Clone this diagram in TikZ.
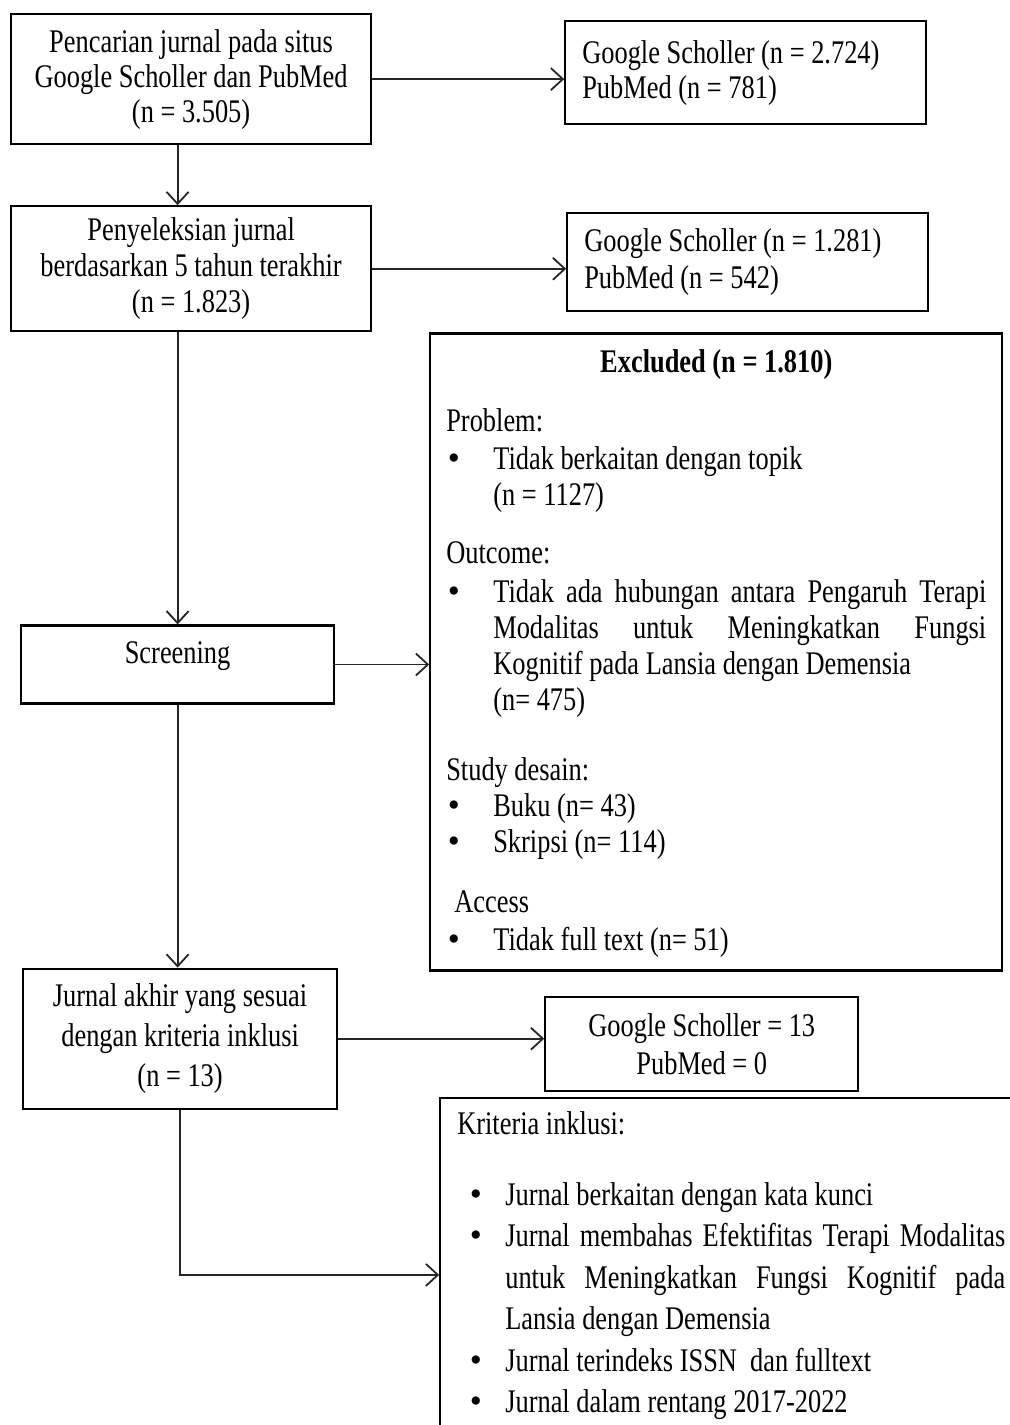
\documentclass[tikz,border=0pt]{standalone}
\usepackage{fontspec}
\usepackage{graphicx}
\setmainfont{Liberation Serif}[FakeStretch=0.8]
\usetikzlibrary{arrows.meta, positioning}
\setlength{\parskip}{0pt}
\newcommand{\bulletmark}{\scalebox{1.3}[1.05]{\textbullet}}
\newcommand{\exitem}[1]{\par\noindent\hangindent=23.5pt\hangafter=1%
  \makebox[23.5pt][l]{\hspace{0.8pt}\bulletmark}#1\par}
\newcommand{\initem}[1]{\par\noindent\hangindent=24pt\hangafter=1%
  \makebox[24pt][l]{\hspace{6.3pt}\bulletmark}#1\par}
\tikzset{%
  box/.style={draw, line width=1.1pt, inner sep=0pt, align=flush center,
    execute at begin node={\spaceskip=0pt\relax\xspaceskip=0pt\relax}},
  srcbox/.style={box, inner xsep=8.5pt, text width=163.5pt, align=flush left},
  listbox/.style={draw, line width=1.1pt, inner xsep=8pt, inner ysep=8pt},
  move/.style={draw=black!85, line width=0.9pt, -{Straight Barb[length=6pt, width=11pt]}},
}
\begin{document}
\begin{tikzpicture}[x=0.5pt, y=-0.5pt, font=\fontsize{16.5pt}{17.5pt}\selectfont]
  \useasboundingbox (0,0) rectangle (1010,1425);
  \clip (0,0) rectangle (1010,1425);

  % left column
  \node[box, anchor=north west, text width=180pt, minimum height=65pt] (search) at (10,13)
    {Pencarian jurnal pada situs\\Google Scholler dan PubMed\\(n = 3.505)};
  \node[box, text width=180pt, minimum height=62.5pt, font=\fontsize{16.5pt}{18pt}\selectfont]
    (filter) [below=30pt of search]
    {Penyeleksian jurnal\\berdasarkan 5 tahun terakhir\\(n = 1.823)};
  \node[box, text width=156.5pt, minimum height=39pt, text depth=12pt]
    (screen) [below=146pt of filter, xshift=-6.75pt] {Screening};
  \node[box, text width=157pt, minimum height=70pt, font=\fontsize{16.5pt}{20pt}\selectfont]
    (final) [below=131.5pt of screen, xshift=1.25pt]
    {Jurnal akhir yang sesuai\\dengan kriteria inklusi\\(n = 13)};

  % right column
  \node[srcbox, minimum height=51.5pt] (gs1) [right=96pt of search, yshift=3.25pt]
    {Google Scholler (n = 2.724)\\PubMed (n = 781)};
  \node[srcbox, minimum height=49pt, font=\fontsize{16.5pt}{18.5pt}\selectfont]
    (gs2) [right=97pt of filter, yshift=3.25pt]
    {Google Scholler (n = 1.281)\\PubMed (n = 542)};
  \node[listbox, font=\fontsize{16.5pt}{18pt}\selectfont]
    (excl) [right=47pt of screen, yshift=6.25pt]
    {\parbox[c][302.5pt][t]{270pt}{%
      {\centering\bfseries Excluded (n = 1.810)\par}
      \vspace{11.5pt}
      Problem:\par
      \vspace{1pt}
      \exitem{Tidak berkaitan dengan topik\newline (n = 1127)}
      \vspace{11pt}
      Outcome:\par
      \vspace{1.5pt}
      \exitem{Tidak ada hubungan antara Pengaruh Terapi\linebreak Modalitas untuk Meningkatkan Fungsi\linebreak Kognitif pada Lansia dengan Demensia\newline (n= 475)}
      \vspace{17pt}
      Study desain:\par
      \exitem{Buku (n= 43)}
      \exitem{Skripsi (n= 114)}
      \vspace{12pt}
      \hspace*{4pt}Access\par
      \vspace{1pt}
      \exitem{Tidak full text (n= 51)}}};
  \node[box, text width=156.5pt, minimum height=47pt, font=\fontsize{16.5pt}{19pt}\selectfont]
    (gs3) [right=103pt of final, yshift=-2.5pt]
    {Google Scholler = 13\\PubMed = 0};
  \node[listbox, inner xsep=8.5pt, inner ysep=7pt, font=\fontsize{16.5pt}{20.75pt}\selectfont]
    (incl) [below=2.5pt of gs3.south west, anchor=north west, xshift=-52.5pt]
    {\parbox[c][163pt][t]{274pt}{%
      Kriteria inklusi:\par
      \vspace{14.5pt}
      \initem{Jurnal berkaitan dengan kata kunci}
      \initem{Jurnal membahas Efektifitas Terapi Modalitas\linebreak untuk Meningkatkan Fungsi Kognitif pada\linebreak Lansia dengan Demensia}
      \initem{Jurnal terindeks ISSN\ \ dan fulltext}
      \initem{Jurnal dalam rentang 2017-2022}}};

  % connectors
  \draw[move] (search.east) -- (search.east -| gs1.west);
  \draw[move] (screen.north |- search.south) -- (screen.north |- filter.north);
  \draw[move] (filter.east) -- (filter.east -| gs2.west);
  \draw[move] (screen.north |- filter.south) -- (screen.north);
  \draw[move] (screen.east) -- (screen.east -| excl.west);
  \draw[move] (screen.south) -- (screen.south |- final.north);
  \draw[move] (final.east) -- (final.east -| gs3.west);
  \draw[move] (final.south) |- (incl.west);
\end{tikzpicture}
\end{document}
